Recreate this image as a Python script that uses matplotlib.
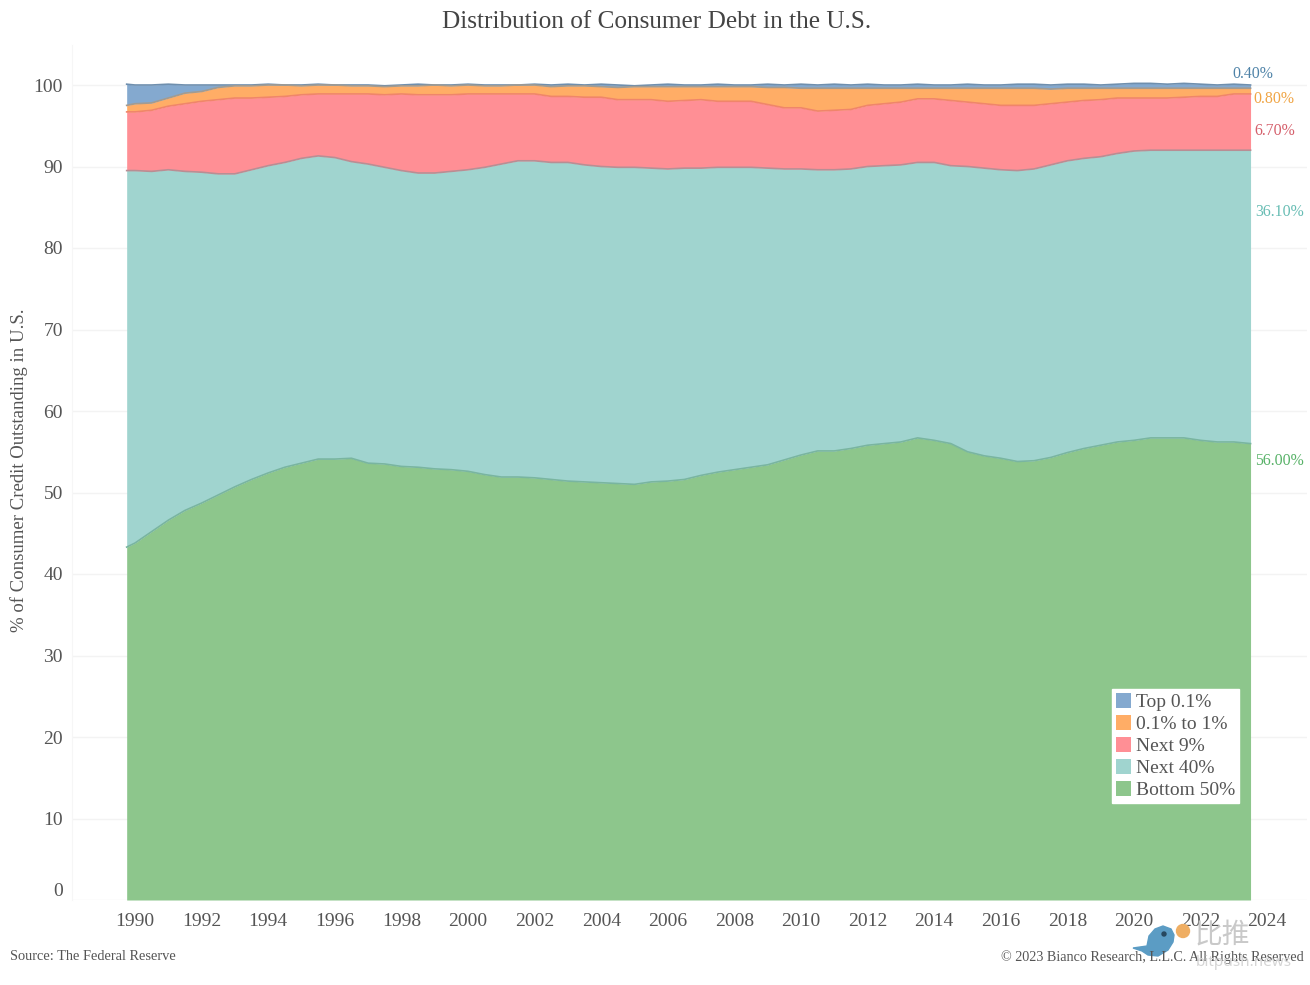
'''Distribution of Consumer Debt in the U.S. stacked area chart'''
import matplotlib
matplotlib.use('Agg')
import matplotlib.pyplot as plt
import matplotlib.patches as patches
import matplotlib.transforms as transforms

plt.rcParams['font.family'] = ['Liberation Serif', 'Noto Sans CJK SC', 'DejaVu Sans']

# half yearly readings, first point is 1989 Q4
years = [1989.75] + [1990 + i * 0.5 for i in range(68)]

# upper edge of each band, cumulative %
upto_50 = [43.3, 43.8, 45.2, 46.6, 47.8, 48.7, 49.7, 50.7, 51.6, 52.4, 53.1, 53.6, 54.1, 54.1, 54.2, 53.6, 53.5,
           53.2, 53.1, 52.9, 52.8, 52.6, 52.2, 51.9, 51.9, 51.8, 51.6, 51.4, 51.3, 51.2, 51.1, 51.0, 51.3, 51.4,
           51.6, 52.1, 52.5, 52.8, 53.1, 53.4, 54.0, 54.6, 55.1, 55.1, 55.4, 55.8, 56.0, 56.2, 56.7, 56.4, 56.0,
           55.0, 54.5, 54.2, 53.8, 53.9, 54.3, 54.9, 55.4, 55.8, 56.2, 56.4, 56.7, 56.7, 56.7, 56.4, 56.2, 56.2,
           56.0]
upto_90 = [89.5, 89.5, 89.4, 89.6, 89.4, 89.3, 89.1, 89.1, 89.6, 90.1, 90.5, 91.0, 91.3, 91.1, 90.6, 90.3, 89.9,
           89.5, 89.2, 89.2, 89.4, 89.6, 89.9, 90.3, 90.7, 90.7, 90.5, 90.5, 90.2, 90.0, 89.9, 89.9, 89.8, 89.7,
           89.8, 89.8, 89.9, 89.9, 89.9, 89.8, 89.7, 89.7, 89.6, 89.6, 89.7, 90.0, 90.1, 90.2, 90.5, 90.5, 90.1,
           90.0, 89.8, 89.6, 89.5, 89.7, 90.2, 90.7, 91.0, 91.2, 91.6, 91.9, 92.0, 92.0, 92.0, 92.0, 92.0, 92.0,
           92.0]
upto_99 = [96.7, 96.7, 96.9, 97.4, 97.7, 98.0, 98.2, 98.4, 98.4, 98.5, 98.6, 98.8, 98.9, 98.9, 98.9, 98.9, 98.8,
           98.9, 98.8, 98.8, 98.8, 98.9, 98.9, 98.9, 98.9, 98.9, 98.6, 98.6, 98.5, 98.5, 98.2, 98.2, 98.2, 98.0,
           98.1, 98.2, 98.0, 98.0, 98.0, 97.6, 97.2, 97.2, 96.8, 96.9, 97.0, 97.5, 97.7, 97.9, 98.3, 98.3, 98.1,
           97.9, 97.7, 97.5, 97.5, 97.5, 97.7, 97.9, 98.1, 98.2, 98.4, 98.4, 98.4, 98.4, 98.5, 98.6, 98.6, 98.9,
           98.9]
upto_999 = [97.5, 97.7, 97.8, 98.4, 99.0, 99.2, 99.7, 99.9, 99.9, 100.0, 100.0, 99.9, 100.0, 100.0, 99.9, 99.9,
            99.8, 99.9, 99.9, 100.0, 99.9, 100.0, 99.9, 99.9, 100.0, 100.0, 99.8, 99.9, 99.9, 99.8, 99.7, 99.8,
            99.8, 99.8, 99.8, 99.8, 99.8, 99.8, 99.8, 99.7, 99.7, 99.6, 99.6, 99.6, 99.6, 99.6, 99.6, 99.6, 99.6,
            99.6, 99.6, 99.6, 99.6, 99.6, 99.6, 99.6, 99.5, 99.6, 99.6, 99.6, 99.6, 99.6, 99.6, 99.6, 99.6, 99.6,
            99.6, 99.6, 99.6]
upto_100 = [100.1, 100.0, 100.0, 100.1, 100.0, 100.0, 100.0, 100.0, 100.0, 100.1, 100.0, 100.0, 100.1, 100.0,
            100.0, 100.0, 99.9, 100.0, 100.1, 100.0, 100.0, 100.1, 100.0, 100.0, 100.0, 100.1, 100.0, 100.1, 100.0,
            100.1, 100.0, 99.9, 100.0, 100.1, 100.0, 100.0, 100.1, 100.0, 100.0, 100.1, 100.0, 100.1, 100.0, 100.1,
            100.0, 100.1, 100.0, 100.0, 100.1, 100.0, 100.0, 100.1, 100.0, 100.0, 100.1, 100.1, 100.0, 100.1, 100.1,
            100.0, 100.1, 100.2, 100.2, 100.1, 100.2, 100.1, 100.0, 100.1, 100.0]

band_names = ['Top 0.1%', '0.1% to 1%', 'Next 9%', 'Next 40%', 'Bottom 50%']
end_labels = ['0.40%', '0.80%', '6.70%', '36.10%', '56.00%']
x_ticks = list(range(1990, 2025, 2))
y_ticks = list(range(0, 101, 10))

COLORS = ['#84A9CF', '#FFAD66', '#FF8F95', '#A0D4CF', '#8DC68C']
LINES = ['#6F8FAE', '#A39B90', '#F0856A', '#B88E94', '#79B5A0']
LABEL_COLORS = ['#4F83A8', '#F0A545', '#D5606C', '#68BDB4', '#58B268']
TEXT = '#555555'

W, H = 1310, 985
fig = plt.figure(figsize=(W / 100, H / 100), dpi=100)
ax = fig.add_axes([72 / W, (H - 900) / H, 1235 / W, 855 / H])

# stacked bands, top one first so the order follows the legend
edges = [upto_100, upto_999, upto_99, upto_90, upto_50]
lowers = [upto_999, upto_99, upto_90, upto_50, [0] * len(years)]
handles = []
for i in range(5):
    h = ax.fill_between(years, lowers[i], edges[i], color=COLORS[i], lw=0, zorder=2, label=band_names[i])
    ax.plot(years, edges[i], color=LINES[i], lw=1.2, zorder=3)
    handles.append(h)

ax.set_xlim(1990 + (72 - 135) / 33.3, 1990 + (1307 - 135) / 33.3)
ax.set_ylim(0, 855 / 8.15)
ax.set_xticks(x_ticks)
ax.set_yticks(y_ticks)
ax.grid(axis='y', color='#F3F3F3', lw=1, zorder=0)
ax.set_axisbelow(True)
ax.tick_params(length=0, labelsize=14, labelcolor=TEXT)
ax.tick_params(axis='x', pad=9)
ax.tick_params(axis='y', pad=6.5)
for s in ['top', 'right', 'bottom']:
    ax.spines[s].set_visible(False)
ax.spines['left'].set_color('#F6F6F6')

# the 0 label sits just above the baseline
lab0 = ax.get_yticklabels()[0]
lab0.set_transform(lab0.get_transform() + transforms.Affine2D().translate(0, 11))

ax.set_ylabel('% of Consumer Credit Outstanding in U.S.', fontsize=13.5, color=TEXT)
ax.yaxis.set_label_coords(28 / W, (H - 470) / H, transform=fig.transFigure)
fig.text(657 / W, (H - 22) / H, 'Distribution of Consumer Debt in the U.S.', fontsize=18.2, color='#444444',
         ha='center', va='center')

# end of line values
label_px = [(1232, 74), (1253, 99), (1254, 131), (1255, 212), (1255, 461)]
for i in range(5):
    fig.text(label_px[i][0] / W, (H - label_px[i][1]) / H, end_labels[i], color=LABEL_COLORS[i], fontsize=11.4,
             ha='left', va='center')

leg = ax.legend(handles=handles, loc='upper left', bbox_to_anchor=(1112 / W, (H - 689) / H),
                bbox_transform=fig.transFigure, borderaxespad=0, fontsize=14, frameon=True, fancybox=False,
                framealpha=1, edgecolor='white', labelcolor=TEXT, handlelength=0.8, handleheight=0.8,
                handletextpad=0.25, labelspacing=0.2, borderpad=0.2)
leg.set_zorder(5)

fig.text(10 / W, (H - 957) / H, 'Source: The Federal Reserve', fontsize=10.4, color=TEXT, ha='left', va='center')
fig.text(1304 / W, (H - 957) / H, '\u00a9 2023 Bianco Research, L.L.C. All Rights Reserved', fontsize=10.2,
         color=TEXT, ha='right', va='center')

# watermark of the source site
px = transforms.IdentityTransform()
bird = [(1133, 948), (1147, 946), (1149, 936), (1155, 929), (1163, 926), (1171, 929), (1174, 935), (1173, 942),
        (1168, 950), (1158, 956), (1148, 955), (1142, 951)]
fig.add_artist(patches.Polygon([(x, H - y) for x, y in bird], closed=True, color='#5B9CC4', transform=px))
fig.add_artist(patches.Circle((1164, H - 934), 2, color='#27475E', transform=px))
fig.add_artist(patches.Circle((1183, H - 931), 6.5, color='#EFAE63', transform=px))
fig.text(1222 / W, (H - 936) / H, '\u6bd4\u63a8', fontsize=20, color='#C9C9C9', ha='center', va='center')
fig.text(1244 / W, (H - 962) / H, 'bitpush.news', fontsize=11, color='#D5D5D5', ha='center', va='center',
         family=['Noto Sans', 'DejaVu Sans'])

fig.savefig('out.png', dpi=100)
